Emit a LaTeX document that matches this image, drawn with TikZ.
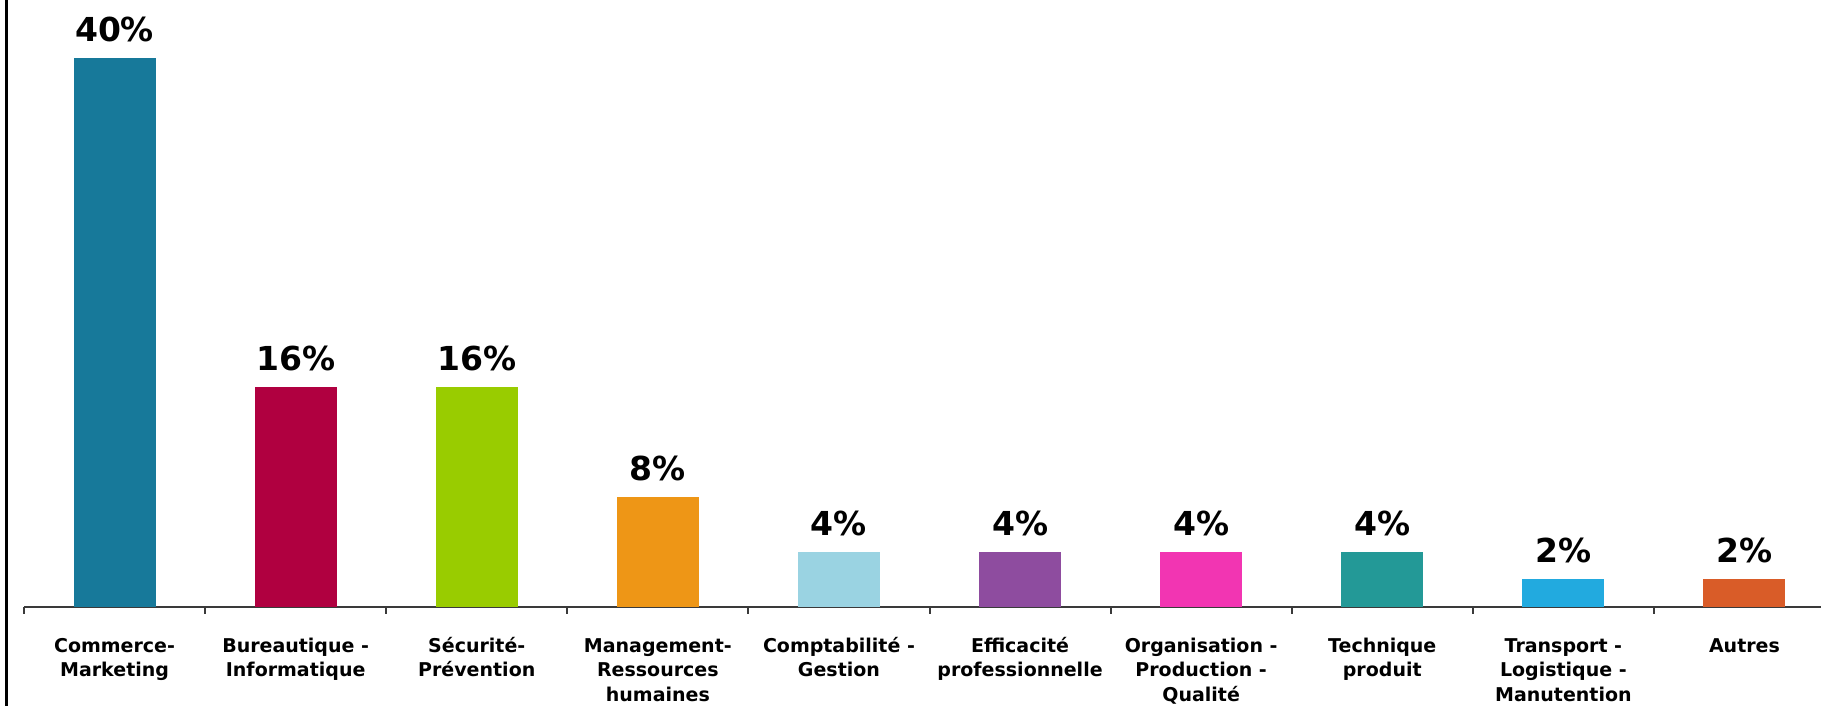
\documentclass[tikz,border=0pt]{standalone}
\usepackage{fontspec}
\setmainfont{DejaVu Sans}
\definecolor{c1}{HTML}{17799A}
\definecolor{c2}{HTML}{B00040}
\definecolor{c3}{HTML}{99CC00}
\definecolor{c4}{HTML}{EE9616}
\definecolor{c5}{HTML}{9AD3E2}
\definecolor{c6}{HTML}{8E4C9F}
\definecolor{c7}{HTML}{F235B2}
\definecolor{c8}{HTML}{239997}
\definecolor{c9}{HTML}{22AADF}
\definecolor{c10}{HTML}{D95C28}
\definecolor{axisgray}{HTML}{3A3A3A}
\tikzset{
  barbox/.style={inner sep=0pt, outer sep=0pt, minimum width=82pt},
  vallabel/.style={anchor=base, inner sep=0pt, font=\bfseries\fontsize{33}{36}\selectfont},
  catlabel/.style={anchor=base, inner sep=0pt, font=\bfseries\fontsize{19}{24}\selectfont},
  axisline/.style={draw=axisgray, line width=2pt},
}
\begin{document}
\begin{tikzpicture}[x=1pt, y=-1pt]
\useasboundingbox (0,0) rectangle (1821,706);
\fill[white] (0,0) rectangle (1821,706);
% left frame line
\coordinate (ltop) at (6.5,0);
\coordinate (lbot) at (6.5,706);
\draw[black, line width=2.5pt] (ltop) -- (lbot);
% axis
\coordinate (axl) at (24,606.5);
\coordinate (axr) at (1821,606.5);
\draw[axisline] (axl) -- (axr);
\foreach \k in {0,...,9}{
  \coordinate (tt\k) at ({24+181.1*\k},606.5);
  \coordinate (tb\k) at ({24+181.1*\k},614);
  \draw[axisline] (tt\k) -- (tb\k);
}
% bars
\foreach \i/\val/\lab in {
  1/40/{Commerce-,Marketing},
  2/16/{Bureautique -,Informatique},
  3/16/{Sécurité-,Prévention},
  4/8/{Management-,Ressources,humaines},
  5/4/{Comptabilité -,Gestion},
  6/4/{Efficacité,professionnelle},
  7/4/{Organisation -,Production -,Qualité},
  8/4/{Technique,produit},
  9/2/{Transport -,Logistique -,Manutention},
  10/2/{Autres}}{
  \pgfmathsetmacro{\cx}{24+181.1*(\i-0.5)}
  \pgfmathsetmacro{\top}{606.5-13.72*\val}
  \pgfmathsetmacro{\h}{13.72*\val}
  \node[barbox, fill=c\i, minimum height=\h pt, anchor=south] (bar\i) at (\cx,606.5) {};
  \node[vallabel] (val\i) at (\cx,\top-16.5) {\val\%};
  \foreach \l [count=\j] in \lab {
    \node[catlabel] (lab\i-\j) at (\cx,{652+24.5*(\j-1)}) {\l};
  }
}
\end{tikzpicture}
\end{document}
